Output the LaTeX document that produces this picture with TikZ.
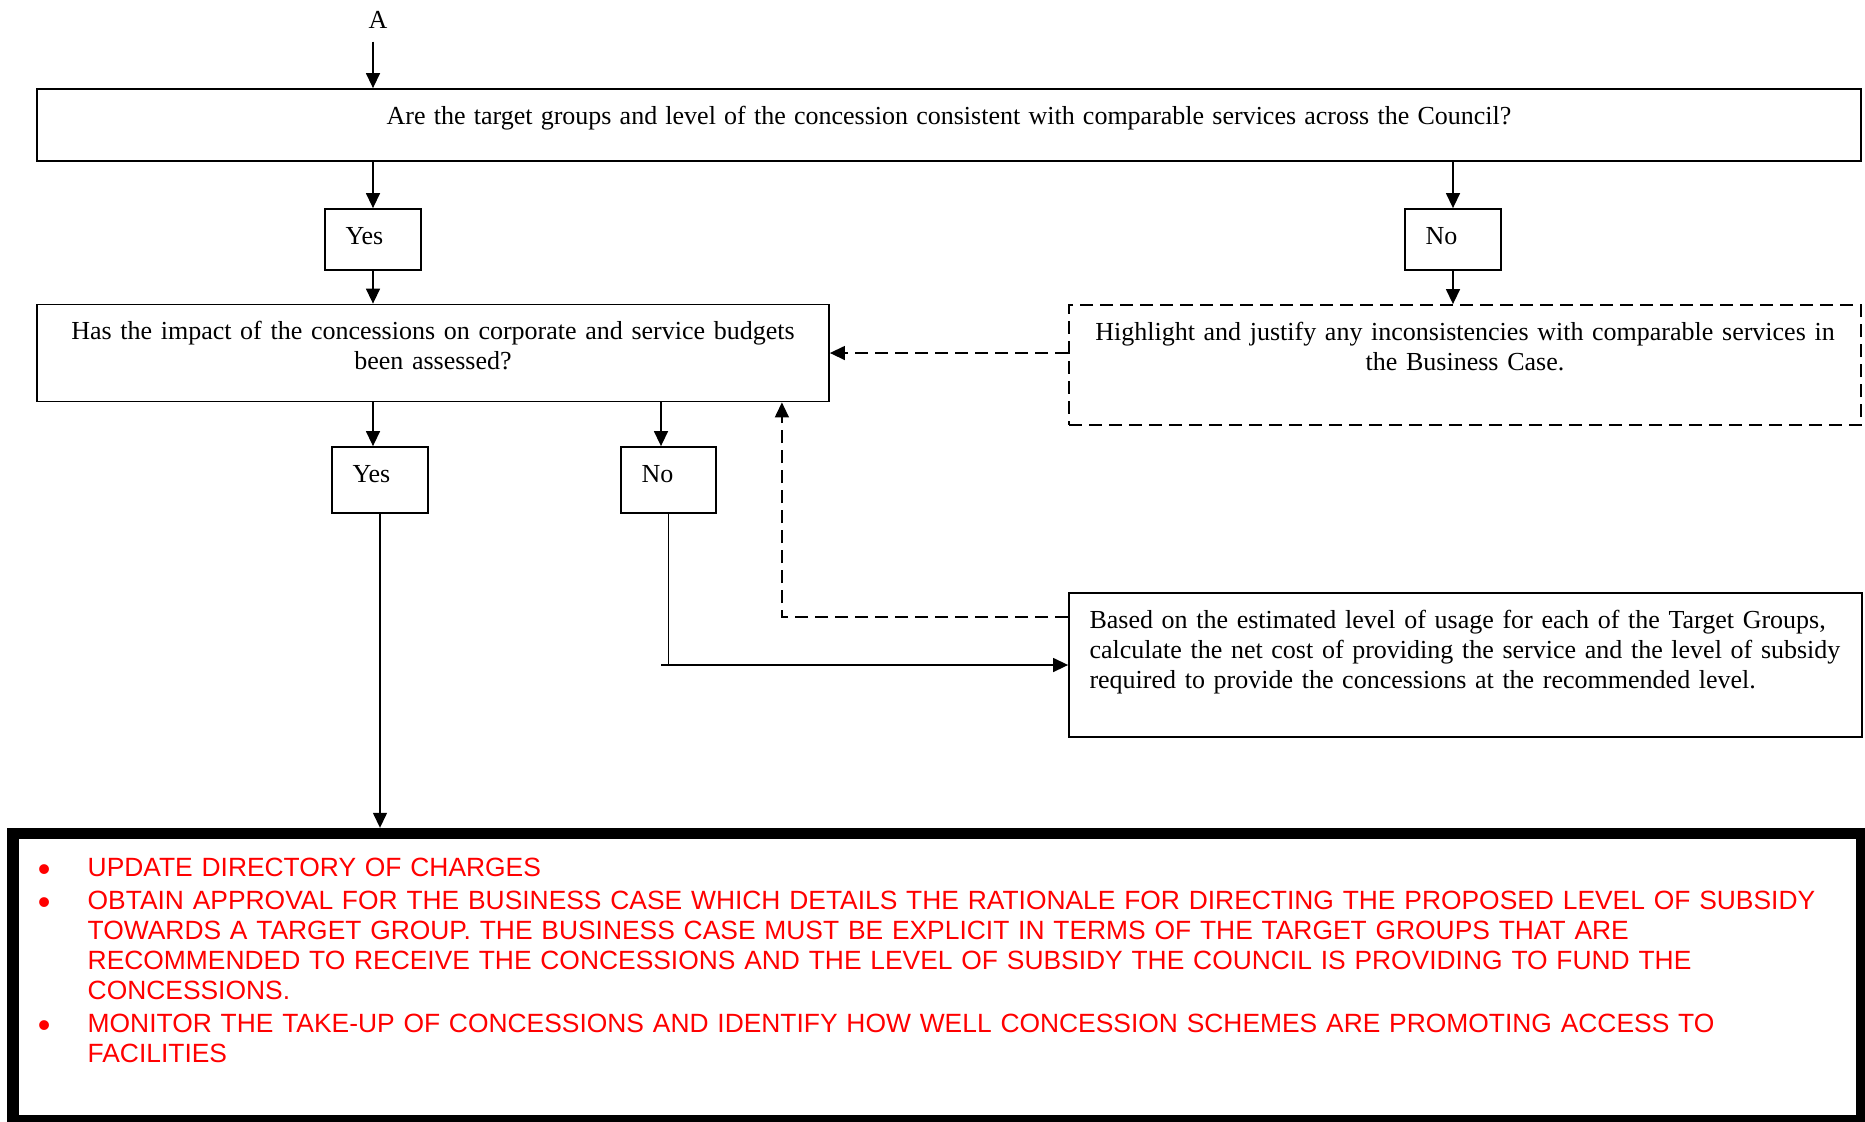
\documentclass[tikz,border=0pt]{standalone}
\usepackage{fontspec}
\setmainfont{Liberation Serif}
\newfontfamily\redfont{Liberation Sans}
\usetikzlibrary{arrows.meta}

\begin{document}
\begin{tikzpicture}[x=1pt,y=-1pt, >={Triangle[length=7.5pt,width=7pt]},
    box/.style={draw, line width=0.9pt, inner sep=0pt},
    dbox/.style={box, dash pattern=on 6.5pt off 3.5pt},
    txt/.style={inner sep=0pt, font=\fontsize{13}{15}\selectfont},
    ctxt/.style={txt, anchor=base, align=center, text width=390pt},
    ltxt/.style={txt, anchor=base west, align=left, text width=380pt},
    link/.style={->, line width=0.7pt},
    dlink/.style={link, dash pattern=on 6.5pt off 3.5pt},
    redtxt/.style={inner sep=0pt, anchor=base west, align=left, text width=888pt,
        text=red, font=\redfont\fontsize{13.2}{15}\selectfont},
    bul/.style={inner sep=0pt, anchor=base, text=red, font=\redfont\fontsize{18}{18}\selectfont}]

    \useasboundingbox (0,0) rectangle (932.5,560.5);
    \clip (0,0) rectangle (932.5,560.5);

    \node[box, minimum width=912pt, minimum height=36pt] (q1) at (474.5,62.5) {};
    \node[txt, anchor=base] (q1t) at ([yshift=-18pt]q1.north)
        {\spaceskip=4.1pt\relax Are the target groups and level of the concession consistent with comparable services across the Council?};
    \node[txt, anchor=base, outer ysep=6.6pt] (A) at (189,14.2) {A};

    \node[box, minimum width=48pt, minimum height=30.5pt] (yes1) at (186.5,119.75) {};
    \node[txt, anchor=base west] (yes1t) at ([xshift=10.5pt,yshift=-18pt]yes1.north west) {Yes};
    \node[box, minimum width=48pt, minimum height=30.5pt] (no1) at (726.5,119.75) {};
    \node[txt, anchor=base west] (no1t) at ([xshift=10.5pt,yshift=-18pt]no1.north west) {No};

    \node[box, minimum width=396pt, minimum height=48.5pt] (q2) at (216.5,176.5) {};
    \node[ctxt] (q2t) at ([yshift=-18pt]q2.north)
        {Has the impact of the concessions on corporate and service budgets\\ been assessed?};
    \node[dbox, minimum width=396pt, minimum height=60pt] (hl) at (732.5,182.5) {};
    \node[ctxt] (hlt) at ([yshift=-18pt]hl.north)
        {Highlight and justify any inconsistencies with comparable services in\\ the Business Case.};

    \node[box, minimum width=48pt, minimum height=33pt] (yes2) at (190,240) {};
    \node[txt, anchor=base west] (yes2t) at ([xshift=10.5pt,yshift=-18pt]yes2.north west) {Yes};
    \node[box, minimum width=47.5pt, minimum height=33pt] (no2) at (334.25,240) {};
    \node[txt, anchor=base west] (no2t) at ([xshift=10.5pt,yshift=-18pt]no2.north west) {No};

    \node[box, minimum width=396.5pt, minimum height=72pt] (calc) at (732.75,332.5) {};
    \node[ltxt] (calct) at ([xshift=10.5pt,yshift=-18pt]calc.north west)
        {Based on the estimated level of usage for each of the Target Groups,\\
         calculate the net cost of providing the service and the level of subsidy\\
         required to provide the concessions at the recommended level.};

    \node[draw, line width=5.8pt, inner sep=0pt, minimum width=924.3pt, minimum height=143.6pt] (act) at (468.75,488.6) {};
    \node[redtxt] (upd) at (43.65,438) {UPDATE DIRECTORY OF CHARGES};
    \node[redtxt] (obt) at (43.65,454.65)
        {OBTAIN APPROVAL FOR THE BUSINESS CASE WHICH DETAILS THE RATIONALE FOR DIRECTING THE PROPOSED LEVEL OF SUBSIDY\\
         TOWARDS A TARGET GROUP. THE BUSINESS CASE MUST BE EXPLICIT IN TERMS OF THE TARGET GROUPS THAT ARE\\
         RECOMMENDED TO RECEIVE THE CONCESSIONS AND THE LEVEL OF SUBSIDY THE COUNCIL IS PROVIDING TO FUND THE\\
         CONCESSIONS.};
    \node[redtxt] (mon) at (43.65,516.15)
        {MONITOR THE TAKE-UP OF CONCESSIONS AND IDENTIFY HOW WELL CONCESSION SCHEMES ARE PROMOTING ACCESS TO\\
         FACILITIES};
    \foreach \n in {upd,obt,mon}
        \node[bul] (\n-bul) at ([xshift=-21.5pt,yshift=-2.6pt]\n.base west) {\textbullet};

    \coordinate (q2no) at ([xshift=-3.75pt]no2.north);
    \coordinate (q2back) at ([xshift=-24pt]q2.south east);

    \draw[link] (A.south -| yes1) -- (q1.north -| yes1);
    \draw[link] (q1.south -| yes1) -- (yes1.north);
    \draw[link] (q1.south -| no1) -- (no1.north);
    \draw[link] (yes1.south) -- (q2.north -| yes1);
    \draw[link] (no1.south) -- (hl.north -| no1);
    \draw[dlink] (hl.west |- q2.east) -- (q2.east);
    \draw[link] (q2.south -| yes1) -- (yes2.north -| yes1);
    \draw[link] (q2.south -| q2no) -- (q2no);
    \draw[line width=0.7pt] (no2.south) -- (no2.south |- calc.west);
    \draw[link] (q2no |- calc.west) -- (calc.west);
    \draw[dlink] ([yshift=-12.35pt]calc.north west) -| (q2back);
    \draw[link] (yes2.south) -- (act.north -| yes2.south);
\end{tikzpicture}
\end{document}
